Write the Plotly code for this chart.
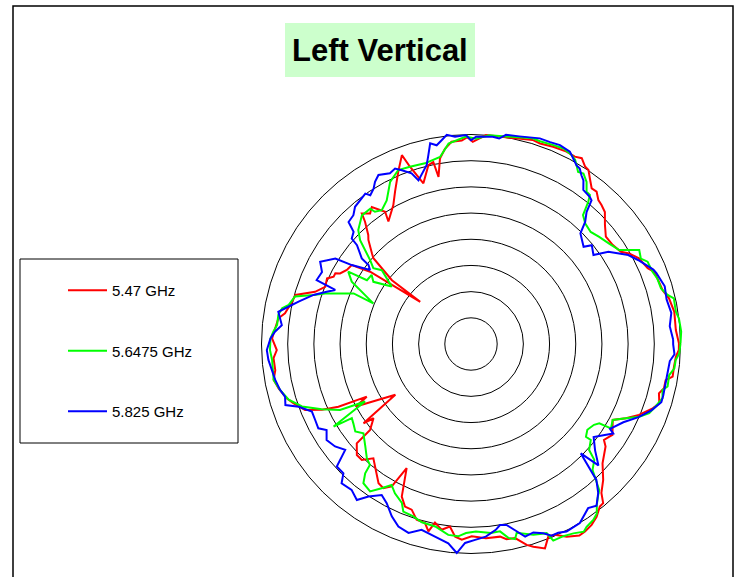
import plotly.graph_objects as go

W, H = 734, 577

# ---- data (angle in degrees, counter-clockwise from east; gain in dB) ----
red_theta = [0.2, 3.9, 9.0, 13.0, 15.7, 18.3, 21.5, 23.2, 27.0, 29.8, 31.6, 35.0, 38.5, 41.6, 44.6, 46.8,
             48.5, 50.5, 52.2, 54.3, 56.0, 57.3, 59.2, 61.0, 63.6, 67.4, 71.0, 73.2, 77.7, 82.2, 85.9, 89.5,
             91.0, 92.6, 95.5, 97.6, 99.5, 101.0, 101.7, 103.4, 106.5, 109.0, 110.1, 112.9, 116.5, 119.2,
             124.0, 123.0, 125.9, 127.7, 129.9, 130.9, 133.3, 134.6, 137.6, 138.7, 141.1, 140.3, 144.4,
             146.5, 149.2, 151.7, 152.5, 153.9, 155.5, 158.6, 161.5, 164.4, 166.7, 170.6, 172.4, 175.4,
             178.4, 181.8, 184.1, 187.6, 190.3, 193.0, 196.4, 198.5, 201.7, 203.8, 205.3, 206.8, 208.5,
             213.9, 216.4, 217.3, 220.4, 221.0, 224.2, 226.7, 229.5, 236.4, 238.7, 240.9, 242.6, 245.6,
             247.9, 250.3, 252.8, 255.6, 257.2, 258.6, 261.0, 263.4, 265.3, 267.3, 270.2, 274.4, 278.6,
             280.3, 282.8, 285.5, 287.1, 289.9, 291.9, 293.7, 296.4, 299.5, 301.3, 303.7, 306.0, 308.4,
             309.7, 311.2, 314.2, 317.8, 322.7, 324.2, 326.2, 327.3, 331.8, 334.4, 337.1, 340.5, 342.5,
             345.3, 347.1, 349.5, 350.8, 353.6, 356.5, 358.4]
red_db = [-0.3, -0.8, -0.7, -1.2, -2.0, -2.2, -2.4, -3.3, -4.0, -5.2, -6.4, -7.0, -7.1, -5.8, -4.1, -3.6,
          -3.3, -2.3, -2.4, -1.1, 0.1, 0.3, 1.3, 0.9, 1.0, 0.8, 0.5, 0.7, 0.2, 0.0, 0.0, -1.4,
          -0.5, -1.1, -1.2, -2.4, -4.1, -7.5, -4.5, -4.9, -8.0, -4.2, -1.6, -4.3, -7.5, -9.6,
          -11.8, -9.9, -7.7, -8.5, -7.5, -9.1, -11.4, -12.1, -14.4, -15.2, -20.6, -27.4, -16.3,
          -12.7, -12.4, -11.6, -10.8, -10.8, -9.8, -10.1, -8.6, -5.2, -4.9, -4.0, -2.9, -2.5,
          -2.0, -2.9, -2.2, -2.3, -1.7, -2.3, -3.3, -4.3, -5.9, -8.9, -12.0, -17.7, -15.0,
          -22.6, -14.5, -16.6, -14.7, -11.1, -9.6, -9.6, -11.3, -8.1, -7.8, -8.9, -13.3, -8.0,
          -6.5, -6.4, -4.9, -4.7, -3.3, -5.2, -4.1, -4.9, -3.1, -2.6, -3.3, -2.8, -2.8,
          -2.1, -2.0, -0.2, 0.5, 1.5, -0.4, -0.2, 1.1, 2.0, 1.9, 1.5, 0.8, -0.4,
          -0.5, -2.2, -3.8, -6.1, -7.7, -8.7, -8.2, -7.9, -9.3, -7.2, -5.2, -3.2, -2.3,
          -2.9, -2.2, -2.2, -1.0, -1.0, -0.8, -0.3]

green_theta = [0.2, 3.4, 7.0, 9.0, 12.7, 14.0, 16.3, 19.4, 21.7, 25.0, 26.7, 29.2, 32.4, 36.0, 39.9, 43.1,
               46.5, 49.0, 50.5, 51.4, 52.8, 54.5, 56.6, 58.1, 60.5, 62.0, 64.7, 67.5, 71.2, 73.3, 80.4,
               85.0, 88.6, 91.4, 96.4, 99.4, 104.3, 109.0, 112.7, 116.5, 118.2, 120.4, 123.7, 126.0,
               126.7, 130.3, 134.7, 136.9, 140.3, 142.2, 140.4, 144.1, 147.5, 145.2, 148.5, 149.5, 152.4,
               157.4, 156.7, 160.9, 162.7, 164.9, 167.9, 169.3, 171.4, 174.4, 176.4, 178.4, 181.7, 184.6,
               190.3, 193.5, 197.0, 200.3, 203.6, 206.7, 208.5, 211.0, 211.9, 214.0, 217.1, 219.7, 224.1,
               227.6, 230.1, 230.7, 232.3, 235.6, 238.2, 240.6, 243.0, 246.5, 248.0, 251.5, 254.6, 258.9,
               263.2, 266.2, 268.5, 271.5, 276.0, 278.8, 280.9, 282.7, 283.6, 288.1, 291.8, 292.7, 295.7,
               298.4, 301.0, 302.3, 304.8, 306.6, 308.0, 310.1, 311.3, 312.6, 314.0, 316.8, 318.1, 321.3,
               321.1, 323.6, 326.7, 328.3, 328.9, 331.8, 334.4, 336.6, 338.8, 341.3, 344.2, 346.5, 347.8,
               351.1, 353.2, 355.5, 357.4]
green_db = [0.0, 0.2, 0.0, -0.4, -0.3, -1.3, -2.2, -2.3, -2.7, -2.8, -3.7, -3.2, -6.5, -7.4, -8.1, -8.7,
            -8.3, -7.4, -4.8, -3.6, -3.5, -2.0, -1.0, -1.3, 0.4, 0.9, 1.3, 1.1, 0.9, 1.0, 0.2,
            0.0, -0.8, -0.4, -1.5, -3.8, -4.4, -4.2, -4.0, -5.4, -6.7, -8.2, -9.3, -8.8,
            -7.8, -7.8, -9.4, -11.0, -15.0, -16.4, -17.9, -21.3, -17.9, -16.9, -16.7, -12.8, -14.3,
            -19.8, -15.6, -10.5, -8.5, -5.2, -4.4, -3.3, -2.8, -2.8, -2.2, -1.7, -1.6, -1.9,
            -1.7, -2.5, -3.6, -5.6, -8.9, -12.0, -17.0, -9.4, -13.2, -12.9, -12.3, -13.3, -11.9,
            -10.5, -9.9, -8.1, -6.4, -5.9, -7.6, -9.1, -8.0, -6.9, -5.5, -5.3, -4.7, -4.5,
            -3.3, -3.2, -3.9, -4.2, -3.7, -3.8, -2.3, -1.8, -2.9, -1.7, -1.1, 0.7, 0.7,
            1.1, 1.8, 1.3, 0.9, 0.3, -1.0, -2.3, -2.9, -4.8, -6.6, -7.7, -9.7, -10.7,
            -11.8, -12.4, -11.9, -11.2, -8.8, -9.3, -7.2, -5.0, -3.5, -2.8, -2.0, -2.4, -1.6,
            -1.7, -0.9, -0.8, -0.2]

blue_theta = [1.3, 5.1, 8.8, 12.8, 16.6, 20.9, 22.2, 26.7, 29.5, 33.9, 36.0, 39.3, 40.8, 45.3, 46.9, 48.8,
              50.0, 51.1, 53.9, 55.5, 56.8, 58.2, 59.4, 62.8, 65.9, 68.6, 71.5, 76.9, 80.5, 82.2, 84.0,
              88.6, 90.0, 91.4, 94.4, 96.6, 98.2, 99.8, 101.5, 102.7, 103.9, 107.8, 109.2, 111.7, 113.4,
              115.4, 118.7, 120.6, 122.1, 124.1, 125.1, 130.2, 132.4, 135.1, 136.3, 138.5, 139.1, 141.9,
              142.4, 143.8, 146.5, 147.8, 151.4, 154.2, 157.5, 158.3, 160.1, 162.7, 166.2, 169.1, 170.5,
              174.3, 176.4, 178.4, 181.7, 184.5, 190.4, 193.5, 195.8, 198.2, 200.0, 203.0, 206.0, 208.9,
              210.8, 213.6, 217.0, 220.1, 222.4, 225.4, 227.1, 230.7, 233.8, 236.1, 239.4, 242.1, 245.3,
              248.3, 251.7, 255.1, 259.4, 263.5, 266.1, 268.3, 271.2, 274.4, 277.6, 279.1, 281.1, 283.7,
              285.7, 288.3, 290.9, 292.8, 294.8, 297.0, 301.3, 305.5, 307.8, 310.5, 312.7, 315.1, 316.4,
              319.4, 322.8, 325.4, 327.8, 328.6, 332.8, 336.4, 339.8, 343.0, 345.0, 350.3, 355.1, 357.1,
              359.9]
blue_db = [-1.4, -1.9, -1.3, -1.7, -1.4, -2.1, -2.4, -4.3, -5.5, -8.4, -11.1, -10.2, -11.6, -10.3, -8.1, -6.5,
           -4.2, -3.9, -3.6, -2.1, -1.5, -0.6, -0.4, 1.3, 1.6, 1.4, 1.4, 0.7, 0.5, -0.4, -0.2,
           -0.4, -1.1, -0.1, -0.3, 0.2, -0.7, -1.5, -0.9, -3.0, -4.8, -7.2, -5.5, -4.3, -3.5,
           -3.9, -3.2, -4.0, -5.0, -5.7, -4.9, -5.7, -6.7, -7.0, -9.0, -9.6, -11.2, -13.5,
           -15.3, -16.1, -12.7, -9.4, -7.2, -8.4, -8.1, -12.1, -10.7, -8.5, -6.1, -3.9, -2.7,
           -3.7, -2.5, -1.7, -1.0, -1.2, -2.0, -2.5, -3.1, -2.7, -5.0, -7.0, -6.9, -6.7,
           -7.9, -6.9, -7.5, -8.6, -5.3, -5.3, -3.7, -4.0, -3.1, -4.9, -6.5, -5.6, -3.8,
           -2.5, -2.0, -3.3, -2.6, -1.7, 0.0, -2.0, -2.6, -3.1, -4.2, -5.0, -4.8, -3.2,
           -1.8, -2.1, -1.3, -0.3, -0.3, 0.2, 0.0, -1.5, -0.9, -2.6, -4.7, -10.4, -6.4,
           -8.8, -10.6, -9.3, -7.9, -8.9, -7.3, -5.1, -3.3, -2.0, -2.0, -2.1, -1.9, -1.1,
           -1.4]

series = [
    ("5.47 GHz", red_theta, red_db, "#FF0000"),
    ("5.6475 GHz", green_theta, green_db, "#00FF00"),
    ("5.825 GHz", blue_theta, blue_db, "#0000FF"),
]
ring_vals = [-35, -30, -25, -20, -15, -10, -5, 0]
r_min, r_max = -40, 3

fig = go.Figure()
for name, th, rr, col in series:
    fig.add_trace(go.Scatterpolar(
        theta=th + th[:1], r=rr + rr[:1], mode="lines", name=name,
        legendgroup=name, line=dict(color=col, width=2), cliponaxis=False,
    ))

def px(x):
    return x / W

def py(y):
    return 1 - y / H

# polar area: centre (471,344), 0 dB ring radius ~209.5 px
cx, cy, r0 = 471, 344, 209.5
rad = r0 * (r_max - r_min) / (0 - r_min)

fig.update_layout(
    width=W, height=H,
    margin=dict(l=0, r=0, t=0, b=0),
    paper_bgcolor="white",
    font=dict(family="Arial, Liberation Sans, sans-serif", color="black"),
    polar=dict(
        domain=dict(x=[px(cx - rad), px(cx + rad)], y=[py(cy + rad), py(cy - rad)]),
        bgcolor="white",
        radialaxis=dict(range=[r_min, r_max], tickvals=ring_vals, showticklabels=False,
                        ticks="", showline=False, gridcolor="black", gridwidth=1),
        angularaxis=dict(showgrid=False, showticklabels=False, ticks="", showline=False,
                         rotation=0, direction="counterclockwise"),
    ),
    showlegend=True,
    legend=dict(x=px(63), y=py(274), xanchor="left", yanchor="top",
                bgcolor="rgba(0,0,0,0)", borderwidth=0, tracegroupgap=38,
                itemwidth=39, font=dict(size=15, color="black",
                                        family="Arial, Liberation Sans, sans-serif")),
    shapes=[
        # page frame
        dict(type="rect", xref="paper", yref="paper", x0=px(13), x1=px(733), y0=py(600), y1=py(6),
             line=dict(color="black", width=1.5)),
        # title background
        dict(type="rect", xref="paper", yref="paper", x0=px(285), x1=px(475), y0=py(77), y1=py(23),
             fillcolor="#CCFFCC", line=dict(width=0), layer="below"),
        # legend frame
        dict(type="rect", xref="paper", yref="paper", x0=px(20), x1=px(238), y0=py(443), y1=py(259),
             line=dict(color="black", width=1)),
    ],
    annotations=[
        dict(text="<b>Left Vertical</b>", xref="paper", yref="paper", x=px(380), y=py(50),
             xanchor="center", yanchor="middle", showarrow=False,
             font=dict(size=31, color="black", family="Arial, Liberation Sans, sans-serif")),
    ],
)

fig.write_html("out.html", config={"displayModeBar": False},
               post_script="document.body.style.margin='0px';")
